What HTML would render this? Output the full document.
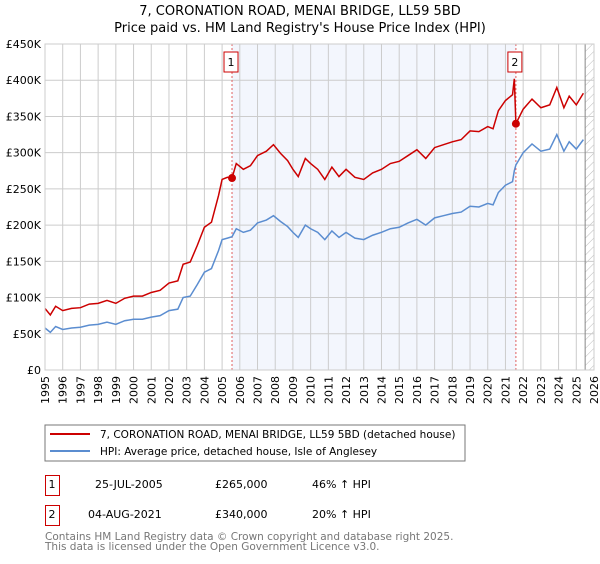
<!DOCTYPE html>
<html><head><meta charset="utf-8"><style>
body{margin:0;background:#fff;font-family:"DejaVu Sans","Liberation Sans",sans-serif;}
svg text{font-family:"DejaVu Sans","Liberation Sans",sans-serif;}
</style></head><body>
<svg id="c" width="600" height="560" xmlns="http://www.w3.org/2000/svg">
<defs><pattern id="hatch" width="6" height="6" patternUnits="userSpaceOnUse" patternTransform="rotate(45)"><line x1="0" y1="0" x2="0" y2="6" stroke="#bbb" stroke-width="1"/></pattern></defs>
<text x="300" y="15" text-anchor="middle" font-size="13">7, CORONATION ROAD, MENAI BRIDGE, LL59 5BD</text>
<text x="300" y="32" text-anchor="middle" font-size="13">Price paid vs. HM Land Registry's House Price Index (HPI)</text>
<g id="plot"></g>
<rect x="45" y="425" width="420" height="36" fill="#fff" stroke="#777"/>
<line x1="50" y1="434" x2="90" y2="434" stroke="#cc0000" stroke-width="2"/>
<text x="100" y="438" font-size="10.5">7, CORONATION ROAD, MENAI BRIDGE, LL59 5BD (detached house)</text>
<line x1="50" y1="451" x2="90" y2="451" stroke="#5b8dd0" stroke-width="2"/>
<text x="100" y="455" font-size="10.5">HPI: Average price, detached house, Isle of Anglesey</text>
<g>
<rect x="45.5" y="475.5" width="14" height="20" fill="none" stroke="#cc0000"/>
<text x="52" y="488" text-anchor="middle" font-size="11">1</text>
<text x="95" y="488" font-size="11">25-JUL-2005</text>
<text x="215" y="488" font-size="11">£265,000</text>
<text x="312" y="488" font-size="11">46% ↑ HPI</text></g>
<g>
<rect x="45.5" y="505.5" width="14" height="20" fill="none" stroke="#cc0000"/>
<text x="52" y="518" text-anchor="middle" font-size="11">2</text>
<text x="88" y="518" font-size="11">04-AUG-2021</text>
<text x="215" y="518" font-size="11">£340,000</text>
<text x="312" y="518" font-size="11">20% ↑ HPI</text></g>
<text x="45" y="540" font-size="10.5" fill="#777">Contains HM Land Registry data © Crown copyright and database right 2025.</text>
<text x="45" y="550" font-size="10.5" fill="#777">This data is licensed under the Open Government Licence v3.0.</text>
</svg>
<script>
const dates=[1995.0,1995.3,1995.6,1996.0,1996.5,1997.0,1997.5,1998.0,1998.5,1999.0,1999.5,2000.0,2000.5,2001.0,2001.5,2002.0,2002.5,2002.8,2003.2,2003.6,2004.0,2004.4,2004.8,2005.0,2005.3,2005.56,2005.8,2006.2,2006.6,2007.0,2007.5,2007.9,2008.3,2008.7,2009.0,2009.3,2009.7,2010.0,2010.4,2010.8,2011.2,2011.6,2012.0,2012.5,2013.0,2013.5,2014.0,2014.5,2015.0,2015.5,2016.0,2016.5,2017.0,2017.5,2018.0,2018.5,2019.0,2019.5,2020.0,2020.3,2020.6,2021.0,2021.4,2021.5,2021.59,2022.0,2022.5,2023.0,2023.5,2023.9,2024.3,2024.6,2025.0,2025.4];
const hpiValues=[58,52,60,56,58,59,62,63,66,63,68,70,70,73,75,82,84,100,102,118,135,140,165,180,182,184,195,190,193,203,207,213,205,198,190,183,200,195,190,180,192,183,190,182,180,186,190,195,197,203,208,200,210,213,216,218,226,225,230,228,245,255,260,275,283,300,312,302,305,325,302,315,305,318];
const propertyValues=[85,76,88,82,85,86,91,92,96,92,99,102,102,107,110,120,123,146,149,172,197,204,241,263,266,265,285,277,282,296,302,311,299,289,277,267,292,285,277,263,280,267,277,266,263,272,277,285,288,296,304,292,307,311,315,318,330,329,336,333,358,372,380,402,340,360,374,362,366,390,362,378,366,382];
const saleDates=[2005.56,2021.59];
const saleValues=[265,340];
const yTicks=[0,50,100,150,200,250,300,350,400,450];
const yTickLabels=["£0","£50K","£100K","£150K","£200K","£250K","£300K","£350K","£400K","£450K"];
const xYears=[1995,1996,1997,1998,1999,2000,2001,2002,2003,2004,2005,2006,2007,2008,2009,2010,2011,2012,2013,2014,2015,2016,2017,2018,2019,2020,2021,2022,2023,2024,2025,2026];

const NS="http://www.w3.org/2000/svg";
const X0=45,X1=594,Y0=370,Y1=44;
const xs=t=>X0+(t-1995)/(2026-1995)*(X1-X0);
const ys=v=>Y0-v/450*(Y0-Y1);
const g=document.getElementById('plot');
function mk(tag,attrs,parent){const e=document.createElementNS(NS,tag);for(const k in attrs)e.setAttribute(k,attrs[k]);(parent||g).appendChild(e);return e;}

let bg=mk('rect',{x:X0,y:Y1,width:X1-X0,height:Y0-Y1,fill:'#fff'});


let band=mk('rect',{x:xs(saleDates[0]),y:Y1,width:xs(saleDates[1])-xs(saleDates[0]),height:Y0-Y1,fill:'#f3f6fd'});


let hat=mk('rect',{x:xs(2025.5),y:Y1,width:X1-xs(2025.5),height:Y0-Y1,fill:'url(#hatch)'});



yTicks.forEach((v,i)=>{
  let l=mk('line',{x1:X0,x2:X1,y1:ys(v),y2:ys(v),stroke:'#ccc','stroke-width':1});
  
  
  let t=mk('text',{x:X0-4,y:ys(v)+4,'text-anchor':'end','font-size':11});
  
  
  t.textContent=yTickLabels[i];
});
xYears.forEach(yr=>{
  let l=mk('line',{x1:xs(yr),x2:xs(yr),y1:Y1,y2:Y0,stroke:'#ccc','stroke-width':1});
  
  
  let t=mk('text',{x:0,y:0,'text-anchor':'end','font-size':11,transform:`translate(${xs(yr)+4},${Y0+6}) rotate(-90)`});
  
  
  t.textContent=yr;
});
let vl=mk('line',{x1:xs(2025.5),x2:xs(2025.5),y1:Y1,y2:Y0,stroke:'#888','stroke-width':1});



saleDates.forEach((d,i)=>{
  let l=mk('line',{x1:xs(d),x2:xs(d),y1:Y1,y2:Y0,stroke:'#e06060','stroke-width':1,'stroke-dasharray':'2,2'});
  
  
  let b=mk('rect',{x:xs(d)-8,y:52,width:14,height:20,fill:'#fff',stroke:'#cc0000'});
  
  
  let t=mk('text',{x:xs(d)-1,y:66,'text-anchor':'middle','font-size':11});
  
  
  t.textContent=String(i+1);
});

let hp=mk('polyline',{points:dates.map((d,i)=>xs(d)+','+ys(hpiValues[i])).join(' '),fill:'none',stroke:'#5b8dd0','stroke-width':1.5});


let pp=mk('polyline',{points:dates.map((d,i)=>xs(d)+','+ys(propertyValues[i])).join(' '),fill:'none',stroke:'#cc0000','stroke-width':1.5});


saleDates.forEach((d,i)=>{
  let c=mk('circle',{cx:xs(d),cy:ys(saleValues[i]),r:4,fill:'#cc0000'});
  
  
});
let fr=mk('rect',{x:X0,y:Y1,width:X1-X0,height:Y0-Y1,fill:'none',stroke:'#ccc'});


</script>
</body></html>
